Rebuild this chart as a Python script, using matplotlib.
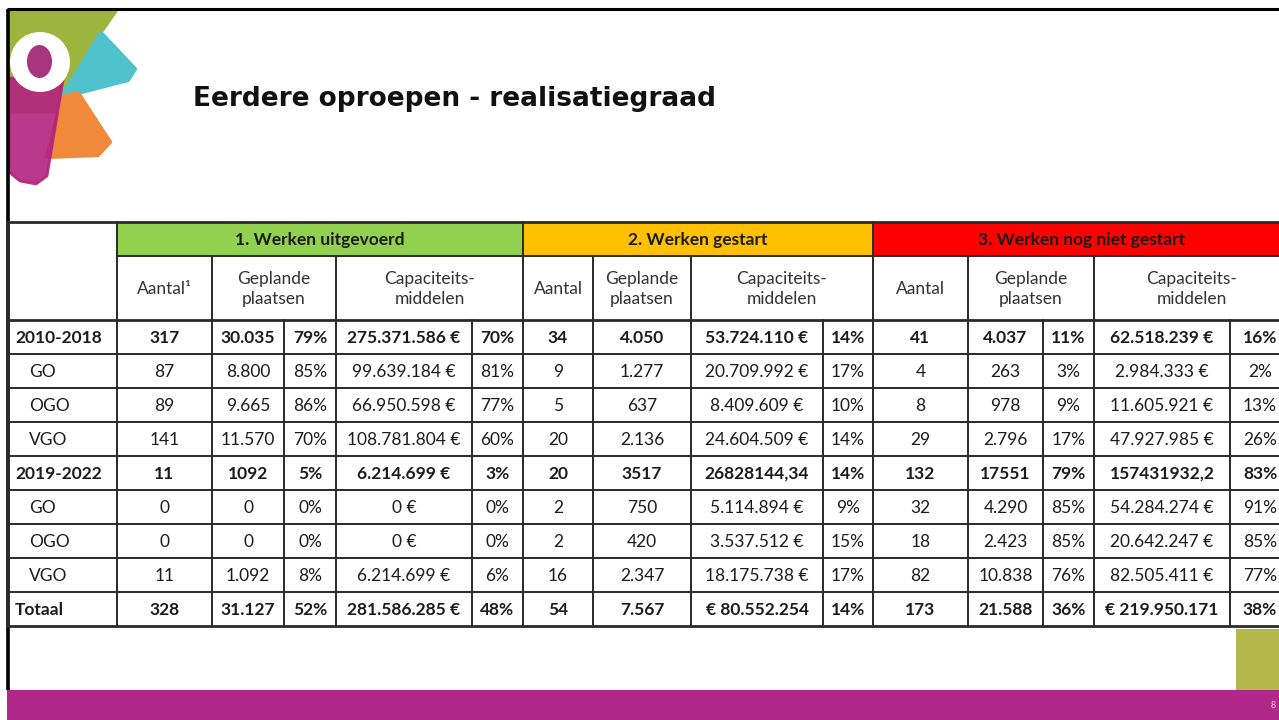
import matplotlib
matplotlib.use('Agg')
import matplotlib.pyplot as plt
from matplotlib.patches import Rectangle, Polygon, Ellipse

title = 'Eerdere oproepen - realisatiegraad'
groups = ['1. Werken uitgevoerd', '2. Werken gestart', '3. Werken nog niet gestart']
group_colors = ['#92D050', '#FFC000', '#FF0000']
sub_headers = ['Aantal¹', 'Geplande\nplaatsen', 'Capaciteits-\nmiddelen',
               'Aantal', 'Geplande\nplaatsen', 'Capaciteits-\nmiddelen',
               'Aantal', 'Geplande\nplaatsen', 'Capaciteits-\nmiddelen']
row_labels = ['2010-2018', 'GO', 'OGO', 'VGO', '2019-2022', 'GO', 'OGO', 'VGO', 'Totaal']
bold_rows = ['2010-2018', '2019-2022', 'Totaal']

# 1. Werken uitgevoerd
g1_aantal = ['317', '87', '89', '141', '11', '0', '0', '11', '328']
g1_plaatsen = ['30.035', '8.800', '9.665', '11.570', '1092', '0', '0', '1.092', '31.127']
g1_plaatsen_pct = ['79%', '85%', '86%', '70%', '5%', '0%', '0%', '8%', '52%']
g1_middelen = ['275.371.586 €', '99.639.184 €', '66.950.598 €', '108.781.804 €', '6.214.699 €',
               '0 €', '0 €', '6.214.699 €', '281.586.285 €']
g1_middelen_pct = ['70%', '81%', '77%', '60%', '3%', '0%', '0%', '6%', '48%']
# 2. Werken gestart
g2_aantal = ['34', '9', '5', '20', '20', '2', '2', '16', '54']
g2_plaatsen = ['4.050', '1.277', '637', '2.136', '3517', '750', '420', '2.347', '7.567']
g2_middelen = ['53.724.110 €', '20.709.992 €', '8.409.609 €', '24.604.509 €', '26828144,34',
               '5.114.894 €', '3.537.512 €', '18.175.738 €', '€ 80.552.254']
g2_middelen_pct = ['14%', '17%', '10%', '14%', '14%', '9%', '15%', '17%', '14%']
# 3. Werken nog niet gestart
g3_aantal = ['41', '4', '8', '29', '132', '32', '18', '82', '173']
g3_plaatsen = ['4.037', '263', '978', '2.796', '17551', '4.290', '2.423', '10.838', '21.588']
g3_plaatsen_pct = ['11%', '3%', '9%', '17%', '79%', '85%', '85%', '76%', '36%']
g3_middelen = ['62.518.239 €', '2.984.333 €', '11.605.921 €', '47.927.985 €', '157431932,2',
               '54.284.274 €', '20.642.247 €', '82.505.411 €', '€ 219.950.171']
g3_middelen_pct = ['16%', '2%', '13%', '26%', '83%', '91%', '85%', '77%', '38%']

columns = [g1_aantal, g1_plaatsen, g1_plaatsen_pct, g1_middelen, g1_middelen_pct,
           g2_aantal, g2_plaatsen, g2_middelen, g2_middelen_pct,
           g3_aantal, g3_plaatsen, g3_plaatsen_pct, g3_middelen, g3_middelen_pct]

# layout in pixels
xe = [8, 117, 212, 284, 336, 472, 523, 593, 691, 823, 873, 968, 1043, 1094, 1230, 1290]
group_span = [(1, 6), (6, 10), (10, 15)]
sub_span = [(1, 2), (2, 4), (4, 6), (6, 7), (7, 8), (8, 10), (10, 11), (11, 13), (13, 15)]
y_top, y_grp, y_sub, row_h = 222, 256, 320, 34
y_bot = y_sub + row_h * len(row_labels)

fam = ['Lato', 'DejaVu Sans']
fs = 12.5
ink = '#1c1c1c'
lc = '#2a2a2a'

fig = plt.figure(figsize=(12.79, 7.2), dpi=100)
ax = fig.add_axes([0, 0, 1, 1])
ax.set_xlim(0, 1279)
ax.set_ylim(720, 0)
ax.axis('off')

# logo
ax.add_patch(Polygon([(9, 10), (117, 10), (101, 33), (62, 97), (55, 112), (9, 112)],
                     closed=True, fc='#9DB53E', ec='#9DB53E', lw=2, joinstyle='round'))
ax.add_patch(Polygon([(62, 97), (101, 33), (135, 69), (128, 80)],
                     closed=True, fc='#4EC2CD', ec='#4EC2CD', lw=3, joinstyle='round'))
ax.add_patch(Polygon([(62, 97), (78, 93), (110, 142), (98, 155), (47, 157)],
                     closed=True, fc='#F0893A', ec='#F0893A', lw=3, joinstyle='round'))
ax.add_patch(Polygon([(9, 78), (63, 80), (47, 176), (36, 184), (20, 181), (9, 172)],
                     closed=True, fc='#B3237F', ec='#B3237F', lw=2, alpha=0.9, joinstyle='round'))
ax.add_patch(Ellipse((40, 62), 60, 60, fc='white', ec='none'))
ax.add_patch(Ellipse((39.5, 61.5), 25, 33, fc='#A9357F', ec='none'))

# frame
ax.plot([7, 1279], [9, 9], color='black', lw=2.2, solid_capstyle='butt')
ax.plot([8, 8], [9, 690], color='black', lw=2.6, solid_capstyle='butt')

ax.text(193, 99, title, fontsize=19, fontweight='bold', family=['DejaVu Sans'],
        color='#111111', va='center', ha='left')

# group header fills
for (a, b), g, c in zip(group_span, groups, group_colors):
    ax.add_patch(Rectangle((xe[a], y_top), xe[b] - xe[a], y_grp - y_top, fc=c, ec='none'))
    ax.text((xe[a] + xe[b]) / 2, (y_top + y_grp) / 2 + 1, g, fontsize=fs, fontweight='bold',
            family=fam, color=ink, ha='center', va='center')

# sub headers
for (a, b), s in zip(sub_span, sub_headers):
    ax.text((xe[a] + xe[b]) / 2, (y_grp + y_sub) / 2 + 1, s, fontsize=fs, family=fam,
            color='#333333', ha='center', va='center', linespacing=1.35)

# body
for i, lab in enumerate(row_labels):
    yc = y_sub + row_h * i + row_h / 2 + 1
    bold = lab in bold_rows
    ax.text(15 if bold else 29, yc, lab, fontsize=fs, family=fam,
            fontweight='bold' if bold else 'normal', color=ink, ha='left', va='center')
    for j, col in enumerate(columns):
        ax.text((xe[j + 1] + xe[j + 2]) / 2, yc, col[i], fontsize=fs, family=fam,
                fontweight='bold' if bold else 'normal', color=ink, ha='center', va='center')

# grid lines
lw = 1.4
ax.plot([xe[0], 1279], [y_top, y_top], color=lc, lw=2)
ax.plot([xe[1], 1279], [y_grp, y_grp], color=lc, lw=lw)
for i in range(len(row_labels) + 1):
    y = y_sub + row_h * i
    ax.plot([xe[0], 1279], [y, y], color=lc, lw=2 if i in (0, len(row_labels)) else lw)
for k in (0, 1, 6, 10):
    ax.plot([xe[k], xe[k]], [y_top, y_bot], color=lc, lw=lw)
for k in (2, 4, 7, 8, 11, 13):
    ax.plot([xe[k], xe[k]], [y_grp, y_bot], color=lc, lw=lw)
for k in (3, 5, 9, 12, 14):
    ax.plot([xe[k], xe[k]], [y_sub, y_bot], color=lc, lw=lw)

# footer
ax.add_patch(Rectangle((1236, 629), 45, 61, fc='#B2B84B', ec='none'))
ax.add_patch(Rectangle((7, 690), 1274, 32, fc='#B0288A', ec='none'))
ax.text(1273, 705, '8', fontsize=6.5, color='#F2D0E6', ha='center', va='center', family=fam)

fig.savefig('out.png', dpi=100)
